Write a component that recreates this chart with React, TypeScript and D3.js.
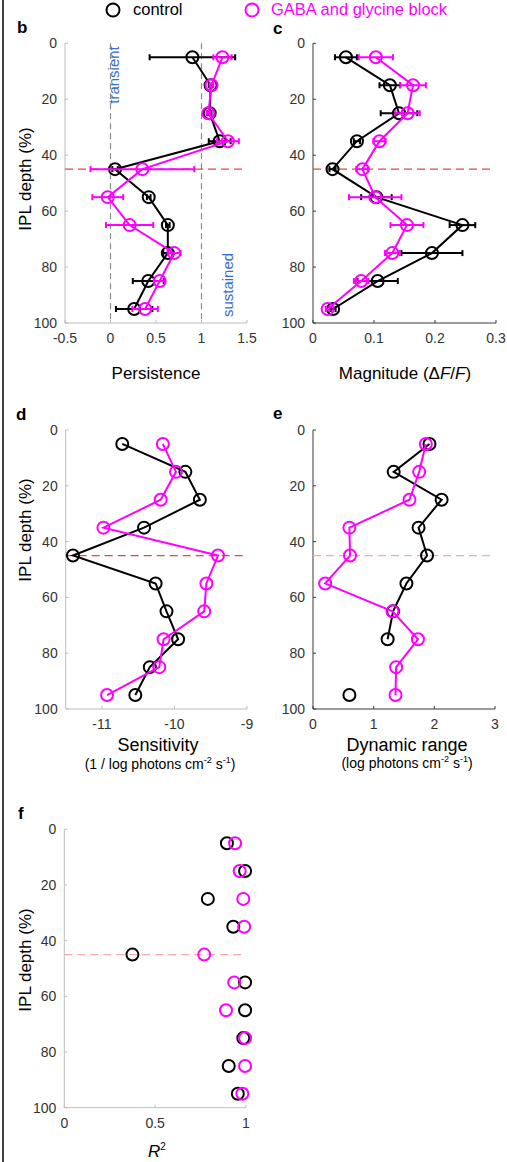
import React from "react";
import * as d3 from "d3";

const depths = [5, 15, 25, 35, 45, 55, 65, 75, 85, 95];
const depthTicks = [0, 20, 40, 60, 80, 100];

// Panel b: persistence
const persistenceControl = [0.9, 1.1, 1.09, 1.2, 0.05, 0.42, 0.63, 0.63, 0.415, 0.26];
const persistenceControlErr = [0.47, 0.02, 0.02, 0.12, 0.03, 0.02, 0.02, 0.05, 0.17, 0.2];
const persistenceBlock = [1.23, 1.11, 1.075, 1.29, 0.35, -0.03, 0.21, 0.7, 0.54, 0.38];
const persistenceBlockErr = [0.1, 0.02, 0.02, 0.12, 0.57, 0.17, 0.26, 0.07, 0.06, 0.14];
const persistenceTicks = [-0.5, 0, 0.5, 1, 1.5];

// Panel c: magnitude
const magnitudeControl = [0.054, 0.126, 0.141, 0.072, 0.032, 0.104, 0.245, 0.195, 0.106, 0.033];
const magnitudeControlErr = [0.018, 0.017, 0.03, 0.005, 0.005, 0.025, 0.021, 0.05, 0.033, 0.004];
const magnitudeBlock = [0.103, 0.164, 0.155, 0.109, 0.081, 0.102, 0.154, 0.13, 0.079, 0.024];
const magnitudeBlockErr = [0.028, 0.021, 0.02, 0.01, 0.01, 0.043, 0.027, 0.012, 0.012, 0.003];
const magnitudeTicks = [0, 0.1, 0.2, 0.3];

// Panel d: sensitivity
const sensitivityControl = [-10.72, -9.85, -9.65, -10.42, -11.4, -10.26, -10.11, -9.95, -10.34, -10.54];
const sensitivityBlock = [-10.16, -9.98, -10.19, -10.98, -9.4, -9.56, -9.59, -10.15, -10.21, -10.93];
const sensitivityTicks = [-11, -10, -9];

// Panel e: dynamic range
const dynamicRangeControl = [1.92, 1.33, 2.12, 1.74, 1.88, 1.54, 1.32, 1.23, null, 0.6];
const dynamicRangeBlock = [1.86, 1.75, 1.59, 0.6, 0.61, 0.2, 1.31, 1.73, 1.37, 1.36];
const dynamicRangeTicks = [0, 1, 2, 3];

// Panel f: R^2
const r2Control = [0.895, 0.995, 0.79, 0.93, 0.375, 0.995, 0.995, 0.985, 0.905, 0.955];
const r2Block = [0.94, 0.965, 0.985, 0.99, 0.77, 0.935, 0.89, 0.995, 0.995, 0.98];
const r2Ticks = [0, 0.5, 1];

const CONTROL = "#000000";
const BLOCK = "#ff00ff";
const FONT = "'Liberation Sans', Arial, Helvetica, sans-serif";

type Series = {
  values: (number | null)[];
  err?: number[];
  color: string;
  line: boolean;
};

type PanelProps = {
  x0: number;
  x1: number;
  y0: number;
  y1: number;
  domain: [number, number];
  ticks: number[];
  series: Series[];
  axisColor: string;
  refColor: string;
  refEnd: number;
};

function Panel({ x0, x1, y0, y1, domain, ticks, series, axisColor, refColor, refEnd }: PanelProps) {
  const xs = d3.scaleLinear().domain(domain).range([x0, x1]);
  const ys = d3.scaleLinear().domain([0, 100]).range([y0, y1]);
  const line = d3
    .line<[number, number | null]>()
    .defined((d) => d[1] !== null)
    .x((d) => xs(d[1] as number))
    .y((d) => ys(d[0]));
  const refY = ys(45);
  return (
    <g>
      <line x1={x0} x2={x0} y1={y0} y2={y1} stroke={axisColor} strokeWidth={1} />
      <line x1={x0} x2={x1} y1={y1} y2={y1} stroke={axisColor} strokeWidth={1} />
      {depthTicks.map((t) => (
        <g key={"yt" + t}>
          <line x1={x0} x2={x0 + 3} y1={ys(t)} y2={ys(t)} stroke={axisColor} />
          <text x={x0 - 8} y={ys(t)} dy="0.35em" textAnchor="end" fontSize={14} fill="#333" fontFamily={FONT}>
            {t}
          </text>
        </g>
      ))}
      {ticks.map((t) => (
        <g key={"xt" + t}>
          <line x1={xs(t)} x2={xs(t)} y1={y1} y2={y1 - 3} stroke={axisColor} />
          <text x={xs(t)} y={y1 + 20} textAnchor="middle" fontSize={14} fill="#333" fontFamily={FONT}>
            {String(t)}
          </text>
        </g>
      ))}
      <line x1={x0} x2={refEnd} y1={refY} y2={refY} stroke={refColor} strokeWidth={1.3} strokeDasharray="8,5" />
      {series.map((s, si) => (
        <g key={"s" + si}>
          {s.line && (
            <path
              d={line(depths.map((d, i) => [d, s.values[i]] as [number, number | null])) || ""}
              fill="none"
              stroke={s.color}
              strokeWidth={2}
            />
          )}
          {s.err &&
            depths.map((d, i) => {
              const v = s.values[i];
              if (v === null) return null;
              const e = s.err![i];
              const a = xs(v - e);
              const b = xs(v + e);
              const y = ys(d);
              return (
                <g key={"e" + i} stroke={s.color} strokeWidth={2}>
                  <line x1={a} x2={b} y1={y} y2={y} />
                  <line x1={a} x2={a} y1={y - 3} y2={y + 3} />
                  <line x1={b} x2={b} y1={y - 3} y2={y + 3} />
                </g>
              );
            })}
          {depths.map((d, i) => {
            const v = s.values[i];
            if (v === null) return null;
            return (
              <circle key={"c" + i} cx={xs(v)} cy={ys(d)} r={6} fill="none" stroke={s.color} strokeWidth={2} />
            );
          })}
        </g>
      ))}
    </g>
  );
}

function YLabel({ y }: { y: number }) {
  return (
    <text transform={`translate(31,${y}) rotate(-90)`} textAnchor="middle" fontSize={17} fontFamily={FONT} fill="#000">
      IPL depth (%)
    </text>
  );
}

function PanelLetter({ x, y, t }: { x: number; y: number; t: string }) {
  return (
    <text x={x} y={y} fontSize={17} fontWeight="bold" fontFamily={FONT} fill="#000">
      {t}
    </text>
  );
}

export default function App() {
  const lightAxis = "#bdbdbd";
  const darkAxis = "#3a3a3a";
  const redRef = "#e04848";
  const pinkRef = "#f4aaaa";
  const bX = d3.scaleLinear().domain([-0.5, 1.5]).range([65, 247]);
  const bY = d3.scaleLinear().domain([0, 100]).range([43.3, 323]);
  return (
    <svg
      width={507}
      height={1162}
      style={{ position: "absolute", left: 0, top: 0, background: "#fff" }}
      fontFamily={FONT}
    >
      <rect x={0} y={0} width={507} height={1162} fill="#fff" />
      <line x1={3} x2={3} y1={0} y2={1162} stroke="#000" strokeWidth={1.5} />

      {/* legend */}
      <circle cx={113} cy={10} r={6.5} fill="none" stroke={CONTROL} strokeWidth={2} />
      <text x={133} y={14.5} fontSize={16.5} fill={CONTROL}>control</text>
      <circle cx={252} cy={10} r={6.5} fill="none" stroke={BLOCK} strokeWidth={2} />
      <text x={271} y={14.5} fontSize={16.5} fill={BLOCK}>GABA and glycine block</text>

      {/* panel b */}
      <PanelLetter x={17} y={33} t="b" />
      <YLabel y={179} />
      {[0, 1].map((v) => (
        <line key={"v" + v} x1={bX(v)} x2={bX(v)} y1={bY(0)} y2={bY(100)} stroke="#8a8a8a" strokeWidth={1.2} strokeDasharray="6,4" />
      ))}
      <text transform={`translate(119,75) rotate(-90)`} textAnchor="middle" fontSize={15} fill="#3a6bd4">transient</text>
      <text transform={`translate(233,285) rotate(-90)`} textAnchor="middle" fontSize={15} fill="#3a6bd4">sustained</text>
      <Panel
        x0={65}
        x1={247}
        y0={43.3}
        y1={323}
        domain={[-0.5, 1.5]}
        ticks={persistenceTicks}
        axisColor={lightAxis}
        refColor={redRef}
        refEnd={245}
        series={[
          { values: persistenceControl, err: persistenceControlErr, color: CONTROL, line: true },
          { values: persistenceBlock, err: persistenceBlockErr, color: BLOCK, line: true },
        ]}
      />
      <text x={156} y={379} textAnchor="middle" fontSize={17}>Persistence</text>

      {/* panel c */}
      <PanelLetter x={273} y={34} t="c" />
      <Panel
        x0={313}
        x1={496}
        y0={43.3}
        y1={323}
        domain={[0, 0.3]}
        ticks={magnitudeTicks}
        axisColor={darkAxis}
        refColor={redRef}
        refEnd={490}
        series={[
          { values: magnitudeControl, err: magnitudeControlErr, color: CONTROL, line: true },
          { values: magnitudeBlock, err: magnitudeBlockErr, color: BLOCK, line: true },
        ]}
      />
      <text x={405} y={379} textAnchor="middle" fontSize={17}>
        Magnitude (Δ<tspan fontStyle="italic">F</tspan>/<tspan fontStyle="italic">F</tspan>)
      </text>

      {/* panel d */}
      <PanelLetter x={16} y={420} t="d" />
      <YLabel y={530} />
      <Panel
        x0={65.7}
        x1={247}
        y0={430}
        y1={709}
        domain={[-11.5, -9]}
        ticks={sensitivityTicks}
        axisColor={lightAxis}
        refColor={redRef}
        refEnd={243}
        series={[
          { values: sensitivityControl, color: CONTROL, line: true },
          { values: sensitivityBlock, color: BLOCK, line: true },
        ]}
      />
      <text x={158} y={751} textAnchor="middle" fontSize={18}>Sensitivity</text>
      <text x={160} y={769} textAnchor="middle" fontSize={14}>
        (1 / log photons cm<tspan fontSize={9} dy={-6}>-2</tspan>
        <tspan dy={6}> s</tspan>
        <tspan fontSize={9} dy={-6}>-1</tspan>
        <tspan dy={6}>)</tspan>
      </text>

      {/* panel e */}
      <PanelLetter x={273} y={419} t="e" />
      <Panel
        x0={313}
        x1={495}
        y0={430}
        y1={709}
        domain={[0, 3]}
        ticks={dynamicRangeTicks}
        axisColor={darkAxis}
        refColor={pinkRef}
        refEnd={490}
        series={[
          { values: dynamicRangeControl, color: CONTROL, line: true },
          { values: dynamicRangeBlock, color: BLOCK, line: true },
        ]}
      />
      <text x={407} y={751} textAnchor="middle" fontSize={18}>Dynamic range</text>
      <text x={407} y={768} textAnchor="middle" fontSize={14}>
        (log photons cm<tspan fontSize={9} dy={-6}>-2</tspan>
        <tspan dy={6}> s</tspan>
        <tspan fontSize={9} dy={-6}>-1</tspan>
        <tspan dy={6}>)</tspan>
      </text>

      {/* panel f */}
      <PanelLetter x={18} y={819} t="f" />
      <YLabel y={960} />
      <Panel
        x0={64.3}
        x1={246}
        y0={829.3}
        y1={1107.7}
        domain={[0, 1]}
        ticks={r2Ticks}
        axisColor={lightAxis}
        refColor={pinkRef}
        refEnd={243}
        series={[
          { values: r2Control, color: CONTROL, line: false },
          { values: r2Block, color: BLOCK, line: false },
        ]}
      />
      <text x={157} y={1157} textAnchor="middle" fontSize={17}>
        <tspan fontStyle="italic">R</tspan>
        <tspan fontSize={10} dy={-7}>2</tspan>
      </text>
    </svg>
  );
}
